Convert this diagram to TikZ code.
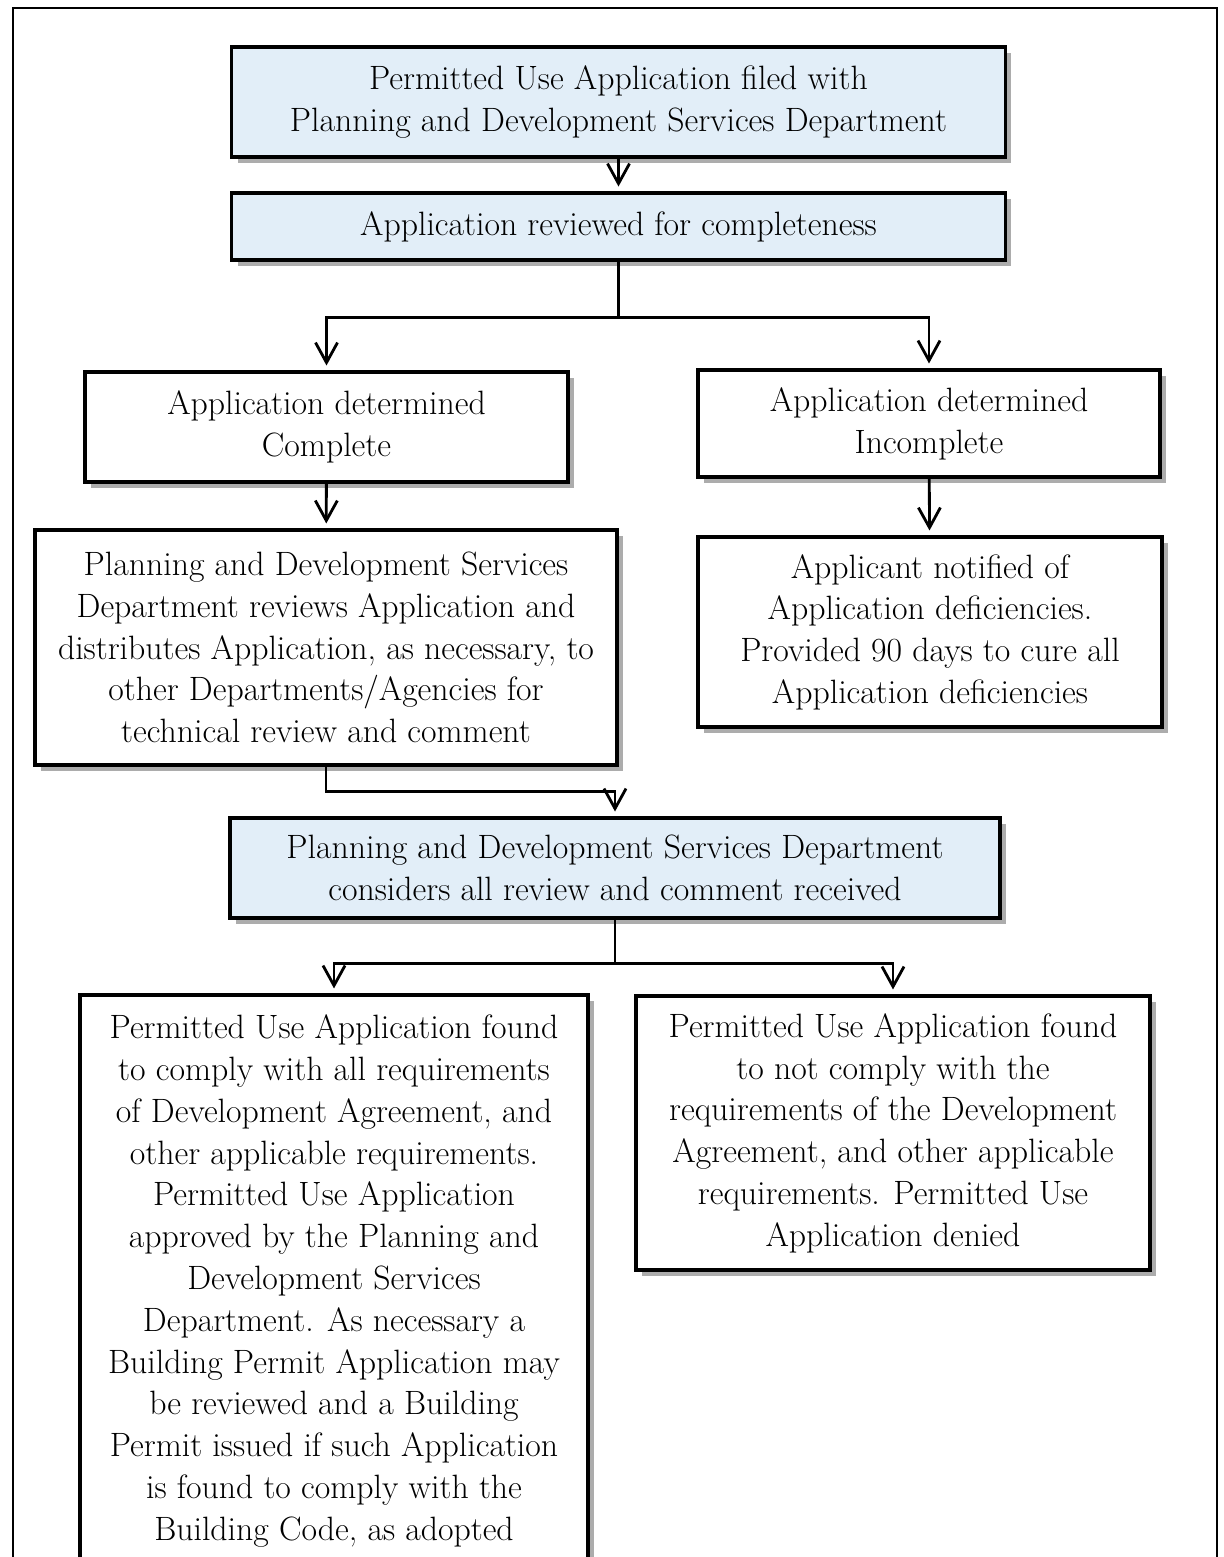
\documentclass[tikz,border=0pt]{standalone}
\usepackage{tikz}
\usetikzlibrary{positioning, arrows.meta, shadows}
\newcommand{\boxfont}{\fontsize{24}{29.7}\selectfont}
\definecolor{paleblue}{RGB}{226,238,248}
\tikzset{
  stepbox/.style = {draw, line width=2.4pt, fill=white, align=center, font=\boxfont,
                    inner sep=0pt,
                    drop shadow={shadow xshift=1.5mm, shadow yshift=-1.5mm,
                                 fill=gray!65, opacity=1}},
  keybox/.style  = {stepbox, fill=paleblue},          % highlighted steps
  arrow/.style   = {-{Straight Barb[length=5mm, width=5.5mm, line width=2pt]},
                    line width=2pt, shorten >=1.2mm},
}

\begin{document}
\begin{tikzpicture}[x=0.025cm, y=-0.025cm]
  \useasboundingbox (0,0) rectangle (1223,1557);
  \draw[line width=1pt] (13,1600) -- (13,8) -- (1217,8) -- (1217,1600);

  \node[keybox,  minimum width=19.33cm, minimum height=2.75cm]  at (618.5, 102)   (filed)      {Permitted Use Application filed with\\ Planning and Development Services Department};
  \node[keybox,  minimum width=19.33cm, minimum height=1.675cm] at (618.5, 226.5) (review)     {Application reviewed for completeness};

  \node[stepbox, minimum width=12.075cm, minimum height=2.75cm] at (326.5, 427)   (complete)   {Application determined\\ Complete};
  \node[stepbox, minimum width=11.55cm, minimum height=2.675cm] at (929, 423.5)   (incomplete) {Application determined\\ Incomplete};

  \node[stepbox, minimum width=14.55cm, minimum height=5.875cm] at (326, 647.5)   (distribute) {Planning and Development Services\\ Department reviews Application and\\ distributes Application, as necessary, to\\ other Departments/Agencies for\\ technical review and comment};
  \node[stepbox, minimum width=11.6cm, minimum height=4.75cm]   at (930, 632)     (notified)   {Applicant notified of\\ Application deficiencies.\\ Provided 90 days to cure all\\ Application deficiencies};

  \node[keybox,  minimum width=19.25cm, minimum height=2.5cm]   at (615, 868)     (considers)  {Planning and Development Services Department\\ considers all review and comment received};

  \node[stepbox, minimum width=12.7cm, minimum height=14.3cm]   at (334, 1281)    (approved)   {Permitted Use Application found\\ to comply with all requirements\\ of Development Agreement, and\\ other applicable requirements.\\ Permitted Use Application\\ approved by the Planning and\\ Development Services\\ Department. As necessary a\\ Building Permit Application may\\ be reviewed and a Building\\ Permit issued if such Application\\ is found to comply with the\\ Building Code, as adopted};
  \node[stepbox, minimum width=12.85cm, minimum height=6.85cm]  at (893, 1133)    (denied)     {Permitted Use Application found\\ to not comply with the\\ requirements of the Development\\ Agreement, and other applicable\\ requirements. Permitted Use\\ Application denied};

  \draw[arrow] (filed) -- (review);
  \draw[arrow] (review.south) -- ++(0,56) -| (complete.north);
  \draw[arrow] (review.south) -- ++(0,56) -| (incomplete.north);
  \draw[arrow] (complete) -- (distribute);
  \draw[arrow] (incomplete) -- (notified);
  \draw[arrow] (distribute.south) -- ++(0,25) -| (considers.north);
  \draw[arrow] (considers.south) -- ++(0,44) -| (approved.north);
  \draw[arrow] (considers.south) -- ++(0,44) -| (denied.north);
\end{tikzpicture}
\end{document}
